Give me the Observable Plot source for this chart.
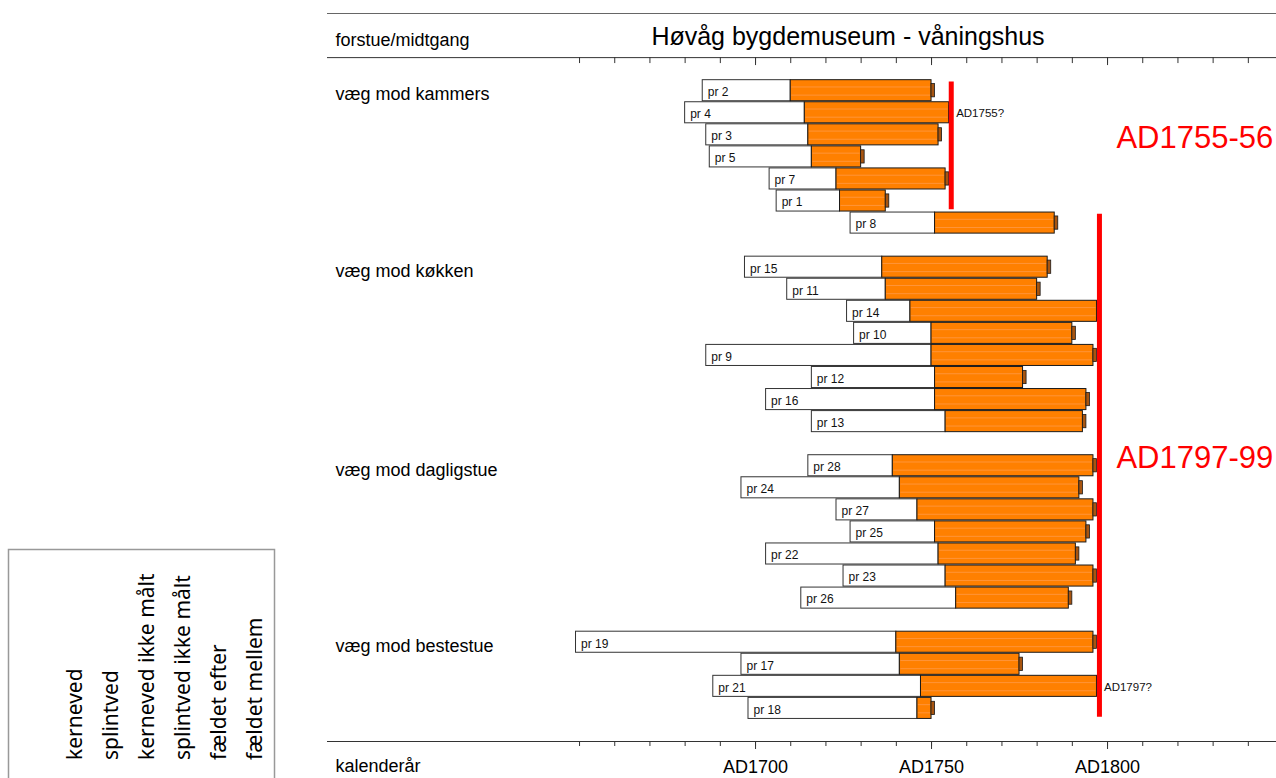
<!DOCTYPE html>
<html>
<head>
<meta charset="utf-8">
<script src="https://cdn.jsdelivr.net/npm/d3@7"></script>
<script src="https://cdn.jsdelivr.net/npm/@observablehq/plot@0.6"></script>
<style>
html, body { margin: 0; padding: 0; background: #fff; }
#wrap { position: relative; width: 1276px; height: 778px; overflow: hidden; }
#wrap svg { display: block; }
</style>
</head>
<body>
<div id="wrap"></div>
<script>
// ---------- data ----------
const title = "Høvåg bygdemuseum - våningshus";
const headerLabel = "forstue/midtgang";
const axisLabel = "kalenderår";
const groups = ["væg mod kammers", "væg mod køkken", "væg mod dagligstue", "væg mod bestestue"];

const sampleNames = ["pr 2","pr 4","pr 3","pr 5","pr 7","pr 1","pr 8",
  "pr 15","pr 11","pr 14","pr 10","pr 9","pr 12","pr 16","pr 13",
  "pr 28","pr 24","pr 27","pr 25","pr 22","pr 23","pr 26",
  "pr 19","pr 17","pr 21","pr 18"];
const sampleGroup = [0,0,0,0,0,0,0, 1,1,1,1,1,1,1,1, 2,2,2,2,2,2,2, 3,3,3,3];
// first measured ring (heartwood start)
const firstRing = [1685,1680,1686,1687,1704,1706,1727,
  1697,1709,1726,1728,1686,1716,1703,1716,
  1715,1696,1723,1727,1703,1725,1713,
  1649,1696,1688,1698];
// heartwood/sapwood boundary
const sapStart = [1710,1714,1715,1716,1723,1724,1751,
  1736,1737,1744,1750,1750,1751,1751,1754,
  1739,1741,1746,1751,1752,1754,1757,
  1740,1741,1747,1746];
// last measured ring
const lastRing = [1750,1755,1752,1730,1754,1737,1785,
  1783,1780,1797,1790,1796,1776,1794,1793,
  1796,1792,1796,1794,1791,1796,1789,
  1796,1775,1797,1750];

const noteSample = ["pr 4", "pr 21"];
const noteText = ["AD1755?", "AD1797?"];

const fellingYear = [1755.6, 1797.7];
const fellingLabel = ["AD1755-56", "AD1797-99"];
const fellingFirst = ["pr 2", "pr 8"];
const fellingLast = ["pr 1", "pr 18"];

const minorTicks = [1650,1660,1670,1680,1690,1700,1710,1720,1730,1740,1750,1760,1770,1780,1790,1800,1810,1820,1830,1840];
const majorTicks = [1700, 1750, 1800];
const majorTickLabels = ["AD1700", "AD1750", "AD1800"];

const legendLabels = ["kerneved", "splintved", "kerneved ikke målt", "splintved ikke målt", "fældet efter", "fældet mellem"];

// ---------- derived ----------
const samples = sampleNames.map((name, i) => ({
  name, group: sampleGroup[i], row: i + sampleGroup[i],
  first: firstRing[i], sap: sapStart[i], last: lastRing[i]
}));
const rowOf = Object.fromEntries(samples.map(d => [d.name, d.row]));
const lastRow = d3.max(samples, d => d.row);
const headerBottom = -1.5;
const headerTop = headerBottom - 2;
const headerMid = (headerTop + headerBottom) / 2;
const bottomLine = lastRow + 1.5;

const groupLabels = groups.map((g, k) => ({ g, row: d3.min(samples.filter(d => d.group === k), d => d.row) }));
const notes = noteSample.map((s, i) => {
  const d = samples.find(e => e.name === s);
  return { text: noteText[i], row: d.row, x: d.last };
});
const fellings = fellingYear.map((y, i) => ({
  year: y, label: fellingLabel[i],
  y1: rowOf[fellingFirst[i]] - 0.4, y2: rowOf[fellingLast[i]] + 0.4
}));
const labelX = d3.max(fellingYear);

const font = "Liberation Sans, Arial, Helvetica, sans-serif";
const orange = "#ff8000";

const chart = Plot.plot({
  width: 1276,
  height: 778,
  marginLeft: 327,
  marginRight: 0,
  marginTop: 13,
  marginBottom: 37,
  style: { fontFamily: font, fontSize: "12px", background: "#fff", color: "#000" },
  x: { domain: [1578.4, 1848], axis: null },
  y: { domain: [headerTop, bottomLine], reverse: true, axis: null },
  marks: [
    // frame lines
    Plot.frame({ anchor: "top", stroke: "#666" }),
    Plot.frame({ anchor: "bottom", stroke: "#333" }),
    Plot.ruleY([headerBottom], { stroke: "#333" }),
    // top ticks (pointing into the plot)
    Plot.ruleX(minorTicks, { x: d => d, y1: headerBottom, y2: headerBottom + 0.27, stroke: "#333" }),
    Plot.ruleX(majorTicks, { x: d => d, y1: headerBottom, y2: headerBottom + 0.36, stroke: "#333" }),
    // bottom axis
    Plot.axisX(minorTicks, { anchor: "bottom", tickSize: 5, tickFormat: () => "", stroke: "#333" }),
    Plot.axisX(majorTicks, { anchor: "bottom", tickSize: 8, tickPadding: 11, fontSize: 18, fill: "#000", stroke: "#333",
      tickFormat: d => majorTickLabels[majorTicks.indexOf(d)] }),
    Plot.text([axisLabel], { frameAnchor: "bottom-left", dx: 8, dy: 30, textAnchor: "start", fontSize: 18, text: d => d }),
    // header
    Plot.text([headerLabel], { frameAnchor: "left", y: () => headerMid, dx: 8, dy: 5, textAnchor: "start", fontSize: 18, text: d => d }),
    Plot.text([title], { frameAnchor: "middle", y: () => headerMid, dx: 46, dy: 1, textAnchor: "middle", fontSize: 25, text: d => d }),
    // group labels
    Plot.text(groupLabels, { frameAnchor: "left", y: "row", dx: 8, dy: 4, textAnchor: "start", fontSize: 18, text: "g" }),
    // heartwood (white)
    Plot.rect(samples, { x1: "first", x2: "sap", y1: d => d.row - 0.5, y2: d => d.row + 0.5, insetTop: 0.5, insetBottom: 0.5,
      fill: "#fff", stroke: "#333", strokeWidth: 1 }),
    // sapwood (orange)
    Plot.rect(samples, { x1: "sap", x2: "last", y1: d => d.row - 0.5, y2: d => d.row + 0.5, insetTop: 0.5, insetBottom: 0.5,
      fill: orange, stroke: "#1a1a1a", strokeWidth: 1 }),
    // faint stripes in sapwood
    Plot.ruleY(samples, { y: d => d.row - 0.17, x1: "sap", x2: "last", stroke: "#ff9438", strokeWidth: 1, insetLeft: 1, insetRight: 1 }),
    Plot.ruleY(samples, { y: d => d.row + 0.2, x1: "sap", x2: "last", stroke: "#ff9438", strokeWidth: 1, insetLeft: 1, insetRight: 1 }),
    // last-ring cap
    Plot.rect(samples, { x1: "last", x2: d => d.last + 1, y1: d => d.row - 0.3, y2: d => d.row + 0.3,
      fill: "#a85510", stroke: "#1a1a1a", strokeWidth: 0.8 }),
    // sample labels
    Plot.text(samples, { x: "first", y: "row", dx: 5, dy: 1.5, textAnchor: "start", fontSize: 12, text: "name", fill: "#111" }),
    // felling lines
    Plot.ruleX(fellings, { x: "year", y1: "y1", y2: "y2", stroke: "#ff0000", strokeWidth: 5 }),
    Plot.text(fellings, { x: () => labelX, y: d => (d.y1 + d.y2) / 2, dx: 17, dy: -8, textAnchor: "start",
      fontSize: 31, fill: "#ff0000", text: "label" }),
    // notes
    Plot.text(notes, { x: "x", y: "row", dx: 7, dy: 1, textAnchor: "start", fontSize: 11.5, text: "text", fill: "#111" })
  ]
});
document.getElementById("wrap").appendChild(chart);

// legend (left, rotated labels)
const lg = d3.select("#wrap").append("svg")
  .attr("width", 290).attr("height", 778)
  .style("position", "absolute").style("left", "0px").style("top", "0px");
lg.append("rect").attr("x", 8.5).attr("y", 549.5).attr("width", 266).attr("height", 260)
  .attr("fill", "none").attr("stroke", "#999").attr("stroke-width", 1.5);
lg.selectAll("text.lg").data(legendLabels).join("text")
  .attr("class", "lg")
  .attr("transform", (d, i) => `translate(${82 + i * 36},760) rotate(-90)`)
  .attr("font-family", "Noto Sans, Open Sans, sans-serif")
  .attr("font-size", 21)
  .attr("fill", "#000")
  .text(d => d);
</script>
</body>
</html>
